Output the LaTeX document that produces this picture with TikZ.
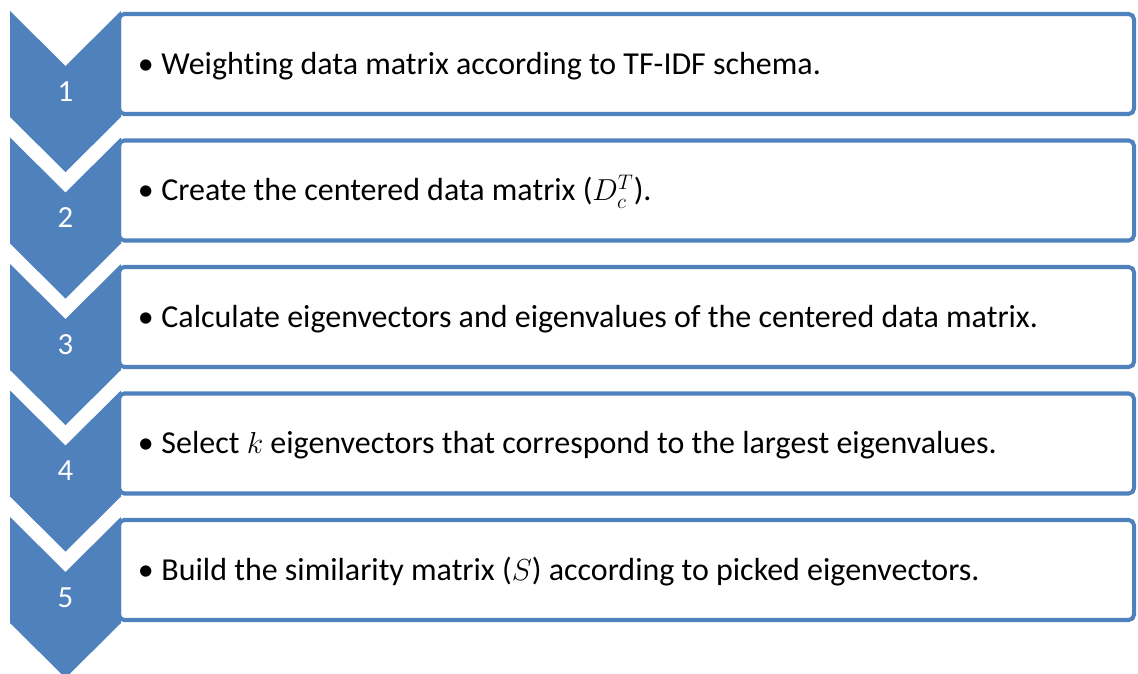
\documentclass[tikz,border=0pt]{standalone}
\usepackage{fontspec}
\setmainfont{Carlito}[Ligatures=NoCommon]
\definecolor{stepblue}{HTML}{4F81BD}
\tikzset{
  chevronshape/.style={fill=stepblue, draw=none},
  stepbox/.style={draw=stepblue, fill=white, line width=2.3pt, rounded corners=3pt},
  steptext/.style={anchor=base west, inner sep=0pt, font=\fontsize{18.2}{22}\selectfont},
  stepnum/.style={anchor=base, text=white, inner sep=0pt, font=\fontsize{17.5}{21}\selectfont}
}
\begin{document}
\begin{tikzpicture}[x=0.02cm, y=-0.02cm]
  \useasboundingbox (0,0) rectangle (1138,673);

  % Steps: box, chevron, number and text
  \foreach \i/\txt in {
      1/{Weighting data matrix according to TF-IDF schema.},
      2/{Create the centered data matrix ($D_c^T$).},
      3/{Calculate eigenvectors and eigenvalues of the centered data matrix.},
      4/{Select $k$ eigenvectors that correspond to the largest eigenvalues.},
      5/{Build the similarity matrix ($S$) according to picked eigenvectors.}} {
    \pgfmathsetmacro{\t}{11+126.5*(\i-1)}
    \draw[stepbox] (119,\t+3) rectangle (1134,\t+103);
    \fill[chevronshape] (10,\t) -- (65.5,\t+55) -- (121,\t) -- (121,\t+106)
      -- (65.5,\t+161) -- (10,\t+106) -- cycle;
    \node[stepnum] (num\i) at (65.5,\t+90) {\i};
    \node[steptext] (text\i) at (137.5,\t+63) {•\hspace{0.24em}\txt};
  }
\end{tikzpicture}
\end{document}
